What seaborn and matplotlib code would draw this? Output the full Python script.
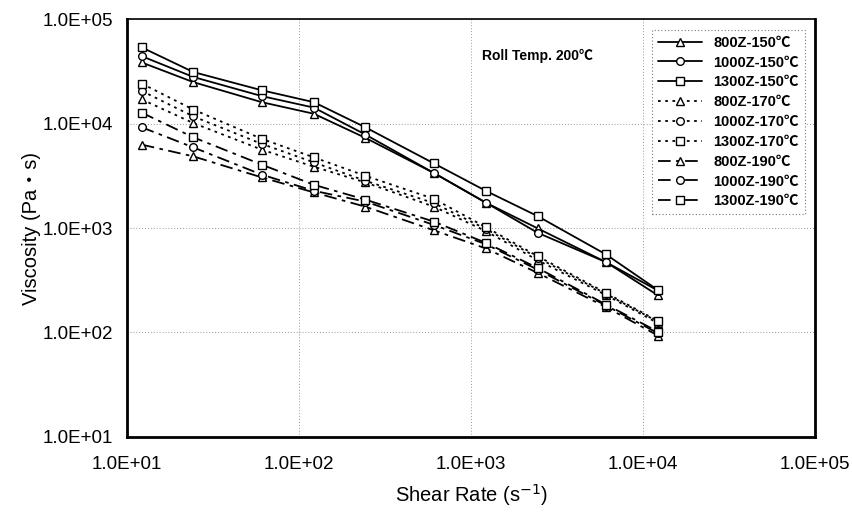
import matplotlib
matplotlib.use("Agg")
import matplotlib.pyplot as plt
import matplotlib.ticker as mticker
import seaborn as sns
import pandas as pd

# shear rate (1/s)
shear_rate = [12.2, 24.3, 60.8, 122, 243, 608, 1216, 2432, 6080, 12160]

# viscosity (Pa.s)
v800_150 = [38400, 24900, 16000, 12400, 7290, 3360, 1750, 993, 471, 227]
v1000_150 = [44100, 27900, 18300, 14200, 7840, 3360, 1750, 901, 471, 252]
v1300_150 = [53500, 31100, 20800, 16000, 9200, 4150, 2270, 1300, 558, 255]
v800_170 = [17000, 10100, 5620, 3860, 2730, 1600, 935, 492, 228, 123]
v1000_170 = [20500, 11700, 6380, 4250, 2830, 1730, 980, 520, 234, 127]
v1300_170 = [24100, 13600, 7130, 4740, 3160, 1900, 1020, 538, 239, 129]
v800_190 = [6280, 4850, 3050, 2190, 1600, 950, 638, 372, 175, 93.5]
v1000_190 = [9200, 5910, 3240, 2270, 1790, 1070, 700, 400, 181, 98.6]
v1300_190 = [12700, 7380, 4040, 2590, 1870, 1150, 722, 415, 185, 102]

labels = ["800Z-150℃", "1000Z-150℃", "1300Z-150℃",
          "800Z-170℃", "1000Z-170℃", "1300Z-170℃",
          "800Z-190℃", "1000Z-190℃", "1300Z-190℃"]
series = [v800_150, v1000_150, v1300_150,
          v800_170, v1000_170, v1300_170,
          v800_190, v1000_190, v1300_190]

markers = ["^", "o", "s"] * 3
styles = ["-"] * 3 + [(0, (1.5, 2.5))] * 3 + [(0, (7, 3, 2, 3))] * 3

sns.set_style("white")
plt.rcParams["font.family"] = ["Liberation Sans", "Noto Sans CJK JP", "DejaVu Sans"]
plt.rcParams["text.color"] = "black"
plt.rcParams["axes.labelcolor"] = "black"
plt.rcParams["xtick.color"] = "black"
plt.rcParams["ytick.color"] = "black"

fig = plt.figure(figsize=(8.52, 5.15), dpi=100)
ax = fig.add_axes([0.149, 0.1515, 0.808, 0.8115])

for lab, vals, mk, ls in zip(labels, series, markers, styles):
    df = pd.DataFrame({"rate": shear_rate, "visc": vals})
    sns.lineplot(data=df, x="rate", y="visc", ax=ax, color="black",
                 marker=mk, markersize=5.5, markerfacecolor="white",
                 markeredgecolor="black", markeredgewidth=1.0,
                 linestyle=ls, linewidth=1.3, label=lab, errorbar=None)

ax.set_xscale("log")
ax.set_yscale("log")
ax.set_xlim(10, 1e5)
ax.set_ylim(10, 1e5)
ax.xaxis.set_major_locator(mticker.LogLocator(base=10, numticks=10))
ax.yaxis.set_major_locator(mticker.LogLocator(base=10, numticks=10))
ax.xaxis.set_minor_locator(mticker.NullLocator())
ax.yaxis.set_minor_locator(mticker.NullLocator())
fmt = mticker.FuncFormatter(lambda v, p: f"{v:.1E}")
ax.xaxis.set_major_formatter(fmt)
ax.yaxis.set_major_formatter(fmt)
ax.tick_params(direction="in", length=5, width=1.5, labelsize=13.5)
ax.tick_params(axis="x", pad=14)
ax.tick_params(axis="y", pad=10)
ax.grid(True, which="major", color="#999999", linestyle=(0, (1, 2)), linewidth=0.7)

for side in ["left", "bottom", "right"]:
    ax.spines[side].set_linewidth(2)
    ax.spines[side].set_color("black")
ax.spines["top"].set_linewidth(1.2)
ax.spines["top"].set_color("black")

ax.set_xlabel("Shear Rate (s$^{-1}$)", fontsize=14.5, labelpad=6)
ax.set_ylabel("Viscosity (Pa・s)", fontsize=14.5, labelpad=1)

ax.text(0.516, 0.911, "Roll Temp. 200℃", transform=ax.transAxes,
        fontsize=10, fontweight="bold", va="center", ha="left")

leg = ax.legend(loc="upper right", bbox_to_anchor=(0.985, 0.974),
                borderaxespad=0, prop={"size": 10.5, "weight": "bold"},
                handlelength=3.0, labelspacing=0.4, fancybox=False,
                framealpha=1)
leg.get_frame().set_edgecolor("#777777")
leg.get_frame().set_linestyle((0, (1, 2)))
leg.get_frame().set_linewidth(0.8)

fig.savefig("out.png", dpi=100)
